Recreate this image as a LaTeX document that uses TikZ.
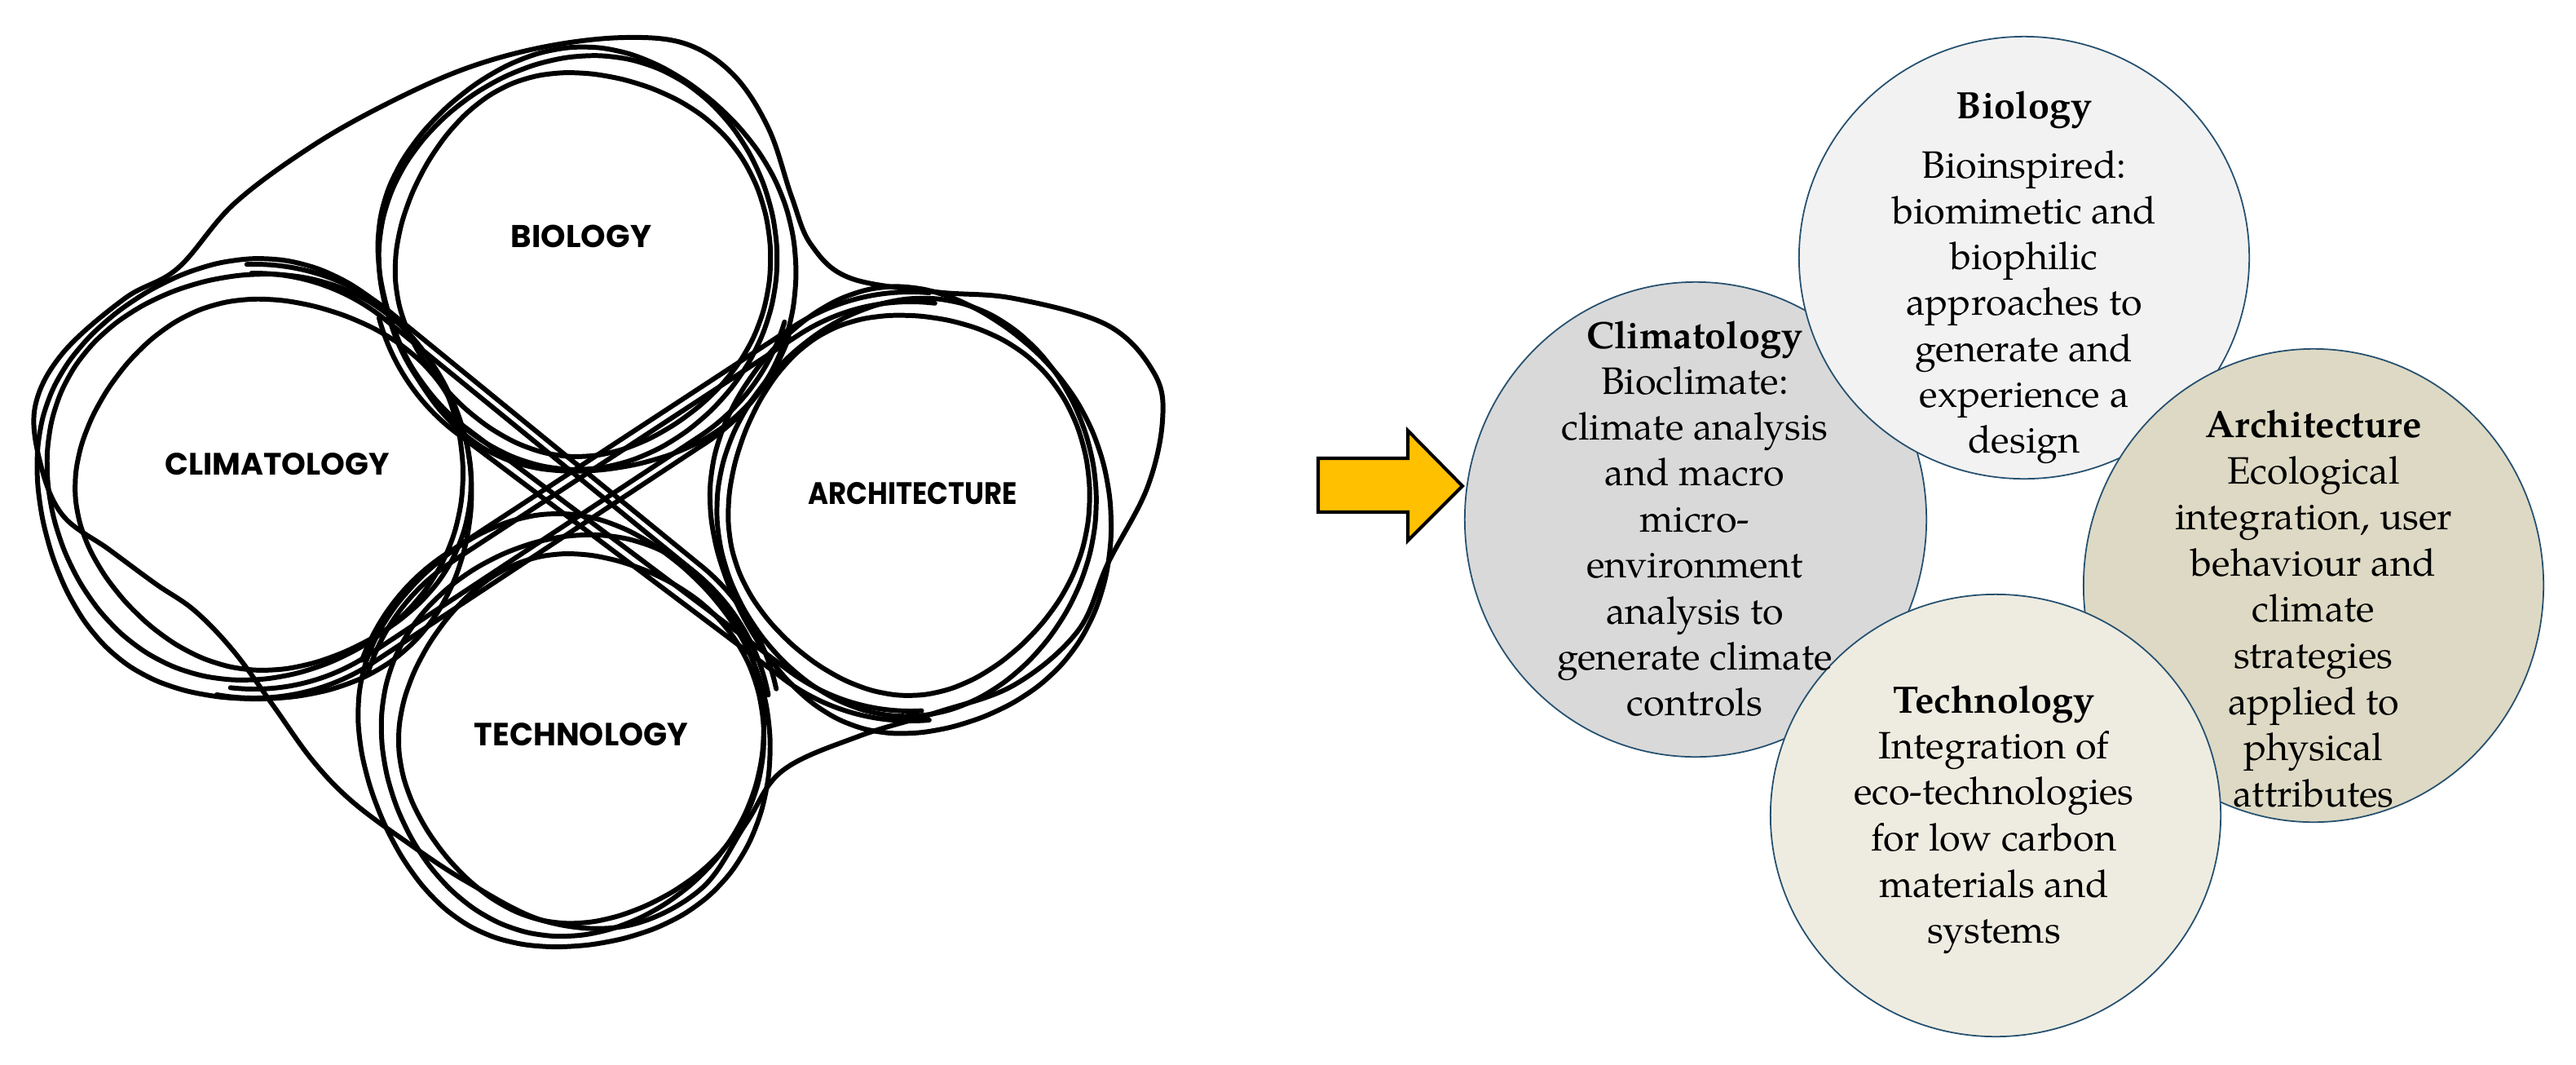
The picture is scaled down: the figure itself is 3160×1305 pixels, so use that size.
\documentclass[tikz,border=0pt]{standalone}
\usepackage{fontspec}
\setmainfont{TeX Gyre Pagella}
\newfontfamily\labelfont{Poppins}
\usetikzlibrary{shapes.geometric,calc}
\definecolor{climfill}{HTML}{D9D9D9}
\definecolor{biofill}{HTML}{F2F2F2}
\definecolor{archfill}{HTML}{DDD9C4}
\definecolor{techfill}{HTML}{EEECE1}
\definecolor{rimblue}{HTML}{25506F}
\definecolor{arrowgold}{HTML}{FFC000}
\newcommand\handloop[8]{%
  \draw[hand] plot[smooth cycle, tension=0.7, samples=40, domain=0:351, variable=\t]
   ({#1 + #3*cos(\t)*cos(#5) - #4*sin(\t)*sin(#5) + #6*cos(#7*\t + #8)},
    {#2 + #3*cos(\t)*sin(#5) + #4*sin(\t)*cos(#5) + #6*sin((#7+1)*\t + #8)});}
% strand: first centre, second centre, side angle, start angle on first, end angle on second, radius
\newcommand\strand[6]{%
  \draw[hand] ($(#1)+(#4:#6)$) arc[start angle=#4, end angle=#3, radius=#6]
     -- ($(#2)+(#3:#6)$) arc[start angle=#3, end angle=#5, radius=#6];}
\begin{document}
\begin{tikzpicture}[x=0.01cm, y=-0.01cm,
  hand/.style={line width=1.7pt, black, line join=round, line cap=round},
  blob/.style={ellipse, draw=rimblue, line width=0.5pt, inner sep=0pt, outer sep=0pt},
  txtbody/.style={anchor=base, inner sep=0pt, font=\fontsize{13.3}{16}\selectfont},
  txthead/.style={anchor=base, inner sep=0pt, font=\fontsize{13.3}{16}\selectfont\bfseries},
  lbl/.style={inner sep=0pt, font=\labelfont\bfseries}]
\fill[white] (0,0) rectangle (3160,1305);
\useasboundingbox (0,0) rectangle (3160,1305);

% ---------- left: hand-drawn sketch ----------
\coordinate (cC) at (312,590);
\coordinate (cB) at (718,322);
\coordinate (cA) at (1117,622);
\coordinate (cT) at (692,900);
% climatology loops
\handloop{335}{593}{239}{227}{0}{4}{3}{20}
\handloop{312}{585}{255}{250}{10}{5}{2}{100}
\handloop{312}{592}{268}{270}{-15}{5}{3}{200}
% biology loops
\handloop{715}{322}{227}{235}{0}{4}{3}{40}
\handloop{713}{322}{244}{250}{8}{5}{2}{160}
\handloop{720}{322}{254}{260}{-10}{5}{3}{260}
% architecture loops
\handloop{1115}{616}{220}{233}{0}{4}{3}{70}
\handloop{1117}{622}{232}{252}{10}{5}{2}{190}
\handloop{1117}{628}{241}{274}{-8}{5}{3}{300}
% technology loops
\handloop{713}{905}{220}{226}{0}{4}{3}{10}
\handloop{704}{902}{234}{245}{10}{5}{2}{130}
\handloop{692}{900}{250}{266}{-12}{5}{3}{250}
% crossing strands (inner sides of the pair loops)
\strand{cC}{cB}{56.6}{96.6}{16.6}{255}
\strand{cC}{cB}{58}{100}{20}{266}
\strand{cT}{cA}{-123.2}{-163.2}{-83.2}{252}
\strand{cT}{cA}{-122}{-160}{-85}{264}
\strand{cB}{cA}{126.9}{166.9}{86.9}{250}
\strand{cB}{cA}{125}{165}{85}{262}
\strand{cC}{cT}{-50.8}{-90.8}{-10.8}{255}
\strand{cC}{cT}{-52}{-92}{-12}{266}
% outer envelope
\draw[hand] plot[smooth cycle, tension=0.6] coordinates {
 (43,499) (77,433) (153,366) (218,329) (287,250) (383,179) (479,125) (574,83)
 (670,57) (766,46) (842,54) (900,92) (943,158) (971,241) (995,300) (1043,341)
 (1148,358) (1244,366) (1359,399) (1416,458) (1426,516) (1407,599) (1359,691)
 (1322,774) (1244,840) (1148,874) (1053,903) (960,945) (915,1010) (860,1090)
 (770,1135) (670,1130) (574,1082) (498,1032) (431,982) (383,932) (335,865)
 (287,799) (239,749) (191,716) (134,674) (77,632) (50,570)};

\node[lbl] (lblBio)  at (713,290)  {\resizebox{1.72cm}{0.275cm}{BIOLOGY}};
\node[lbl] (lblClim) at (340,569)  {\resizebox{2.75cm}{0.27cm}{CLIMATOLOGY}};
\node[lbl] (lblArch) at (1120,605) {\resizebox{2.56cm}{0.27cm}{ARCHITECTURE}};
\node[lbl] (lblTech) at (713,901)  {\resizebox{2.62cm}{0.28cm}{TECHNOLOGY}};

% ---------- arrow ----------
\draw[line width=1.15pt, fill=arrowgold, line join=miter]
  (1617,562) -- (1727,562) -- (1727,528) -- (1794,596) -- (1727,663) -- (1727,628) -- (1617,628) -- cycle;

% ---------- right: four ellipses ----------
\node[blob, fill=climfill, minimum width=5.66cm, minimum height=5.82cm] (climE) at (2080,637) {};
\node[blob, fill=biofill,  minimum width=5.52cm, minimum height=5.42cm] (bioE)  at (2483,316) {};
\node[blob, fill=archfill, minimum width=5.64cm, minimum height=5.80cm] (archE) at (2838,718) {};
\node[blob, fill=techfill, minimum width=5.52cm, minimum height=5.42cm] (techE) at (2448,1000) {};

% texts
\node[txthead] (bioH) at (2483,145) {Biology};
\foreach \l [count=\i] in {Bioinspired:, biomimetic and, biophilic, approaches to, generate and, experience a, design}
  \node[txtbody] (bio\i) at (2483,{218+(\i-1)*56.3}) {\l};

\node[txthead] (climH) at (2079,427) {Climatology};
\foreach \l [count=\i] in {Bioclimate:, climate analysis, and macro, micro-, environment, analysis to, generate climate, controls}
  \node[txtbody] (clim\i) at (2079,{483+(\i-1)*56.4}) {\l};

\node[txthead] (archH) at (2838,536) {Architecture};
\foreach \l [count=\i] in {Ecological, {integration, user}, behaviour and, climate, strategies, applied to, physical, attributes}
  \node[txtbody] (arch\i) at (2838,{593+(\i-1)*56.6}) {\l};

\node[txthead] (techH) at (2446,874) {Technology};
\foreach \l [count=\i] in {Integration of, eco-technologies, for low carbon, materials and, systems}
  \node[txtbody] (tech\i) at (2446,{930+(\i-1)*56.7}) {\l};
\end{tikzpicture}
\end{document}
